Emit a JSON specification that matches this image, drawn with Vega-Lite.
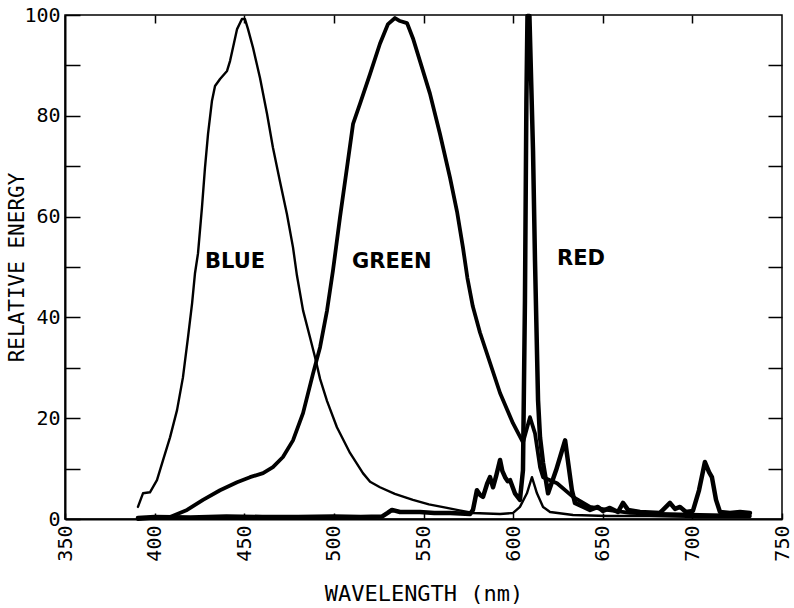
{
  "$schema": "https://vega.github.io/schema/vega-lite/v6.json",
  "width": 717,
  "height": 504,
  "autosize": {"type": "none"},
  "padding": {"left": 65, "top": 15, "right": 12, "bottom": 89},
  "background": "white",
  "config": {
    "view": {"stroke": "black", "strokeWidth": 1.5},
    "font": "DejaVu Sans Mono",
    "axis": {
      "grid": false,
      "domainColor": "black",
      "tickColor": "black",
      "labelColor": "black",
      "titleColor": "black",
      "labelFont": "DejaVu Sans Mono",
      "titleFont": "DejaVu Sans Mono",
      "labelFlush": false,
      "labelOverlap": false,
      "labelBound": false,
      "titleFontWeight": "normal"
    }
  },
  "datasets": {
    "spectra": [
      {"series": "Blue", "wl": 390.7, "e": 2.4}, {"series": "Blue", "wl": 393.5, "e": 5.1}, {"series": "Blue", "wl": 397.4, "e": 5.3},
      {"series": "Blue", "wl": 401.3, "e": 7.7}, {"series": "Blue", "wl": 404.7, "e": 11.7}, {"series": "Blue", "wl": 408.6, "e": 16.2},
      {"series": "Blue", "wl": 412.5, "e": 21.6}, {"series": "Blue", "wl": 415.8, "e": 28.1}, {"series": "Blue", "wl": 418.6, "e": 36.0},
      {"series": "Blue", "wl": 420.9, "e": 42.8}, {"series": "Blue", "wl": 422.5, "e": 48.7}, {"series": "Blue", "wl": 424.2, "e": 52.7},
      {"series": "Blue", "wl": 426.4, "e": 61.8}, {"series": "Blue", "wl": 428.1, "e": 69.7}, {"series": "Blue", "wl": 429.8, "e": 76.4},
      {"series": "Blue", "wl": 432.0, "e": 83.0}, {"series": "Blue", "wl": 433.7, "e": 85.9}, {"series": "Blue", "wl": 436.5, "e": 87.3},
      {"series": "Blue", "wl": 440.4, "e": 88.9}, {"series": "Blue", "wl": 442.1, "e": 90.9}, {"series": "Blue", "wl": 443.7, "e": 93.5},
      {"series": "Blue", "wl": 446.0, "e": 97.2}, {"series": "Blue", "wl": 448.7, "e": 99.2}, {"series": "Blue", "wl": 450.4, "e": 99.2},
      {"series": "Blue", "wl": 452.1, "e": 97.2}, {"series": "Blue", "wl": 454.9, "e": 93.5}, {"series": "Blue", "wl": 458.8, "e": 87.5},
      {"series": "Blue", "wl": 462.7, "e": 80.4}, {"series": "Blue", "wl": 466.0, "e": 73.7}, {"series": "Blue", "wl": 469.9, "e": 67.0},
      {"series": "Blue", "wl": 473.8, "e": 60.5}, {"series": "Blue", "wl": 477.2, "e": 53.9}, {"series": "Blue", "wl": 479.4, "e": 48.3},
      {"series": "Blue", "wl": 482.8, "e": 41.4}, {"series": "Blue", "wl": 486.7, "e": 36.0}, {"series": "Blue", "wl": 489.5, "e": 32.1},
      {"series": "Blue", "wl": 492.3, "e": 27.8}, {"series": "Blue", "wl": 496.2, "e": 23.4}, {"series": "Blue", "wl": 501.7, "e": 18.2},
      {"series": "Blue", "wl": 509.0, "e": 13.1}, {"series": "Blue", "wl": 516.2, "e": 9.1}, {"series": "Blue", "wl": 520.2, "e": 7.4},
      {"series": "Blue", "wl": 525.7, "e": 6.3}, {"series": "Blue", "wl": 534.0, "e": 5.0}, {"series": "Blue", "wl": 544.1, "e": 3.8},
      {"series": "Blue", "wl": 553.0, "e": 2.9}, {"series": "Blue", "wl": 563.1, "e": 2.2}, {"series": "Blue", "wl": 570.0, "e": 1.7},
      {"series": "Blue", "wl": 577.6, "e": 1.2}, {"series": "Blue", "wl": 585.0, "e": 1.1}, {"series": "Blue", "wl": 592.7, "e": 1.0},
      {"series": "Blue", "wl": 600.0, "e": 1.2}, {"series": "Blue", "wl": 603.8, "e": 2.4}, {"series": "Blue", "wl": 607.7, "e": 5.1},
      {"series": "Blue", "wl": 610.5, "e": 8.3}, {"series": "Blue", "wl": 613.3, "e": 5.1}, {"series": "Blue", "wl": 616.7, "e": 2.4},
      {"series": "Blue", "wl": 620.6, "e": 1.4}, {"series": "Blue", "wl": 633.4, "e": 0.8}, {"series": "Blue", "wl": 652.4, "e": 0.6},
      {"series": "Blue", "wl": 676.0, "e": 0.6}, {"series": "Blue", "wl": 704.0, "e": 0.4}, {"series": "Blue", "wl": 732.0, "e": 0.4},

      {"series": "Green", "wl": 390.7, "e": 0.0}, {"series": "Green", "wl": 397.4, "e": 0.2}, {"series": "Green", "wl": 408.6, "e": 0.4},
      {"series": "Green", "wl": 418.1, "e": 1.8}, {"series": "Green", "wl": 427.0, "e": 3.8}, {"series": "Green", "wl": 436.5, "e": 5.7},
      {"series": "Green", "wl": 446.0, "e": 7.3}, {"series": "Green", "wl": 453.2, "e": 8.3}, {"series": "Green", "wl": 460.5, "e": 9.1},
      {"series": "Green", "wl": 466.0, "e": 10.3}, {"series": "Green", "wl": 471.6, "e": 12.3}, {"series": "Green", "wl": 477.2, "e": 15.6},
      {"series": "Green", "wl": 482.8, "e": 21.0}, {"series": "Green", "wl": 488.4, "e": 28.9}, {"series": "Green", "wl": 492.3, "e": 34.1},
      {"series": "Green", "wl": 496.2, "e": 41.4}, {"series": "Green", "wl": 499.5, "e": 49.3}, {"series": "Green", "wl": 503.4, "e": 59.8},
      {"series": "Green", "wl": 507.3, "e": 69.7}, {"series": "Green", "wl": 510.7, "e": 78.4}, {"series": "Green", "wl": 514.6, "e": 82.4},
      {"series": "Green", "wl": 520.2, "e": 88.3}, {"series": "Green", "wl": 525.7, "e": 94.3}, {"series": "Green", "wl": 530.2, "e": 98.2},
      {"series": "Green", "wl": 534.1, "e": 99.4}, {"series": "Green", "wl": 536.9, "e": 98.8}, {"series": "Green", "wl": 540.8, "e": 98.4},
      {"series": "Green", "wl": 544.1, "e": 95.4}, {"series": "Green", "wl": 548.0, "e": 90.9}, {"series": "Green", "wl": 553.6, "e": 84.4},
      {"series": "Green", "wl": 559.2, "e": 76.4}, {"series": "Green", "wl": 564.8, "e": 67.7}, {"series": "Green", "wl": 568.7, "e": 61.0},
      {"series": "Green", "wl": 572.0, "e": 53.9}, {"series": "Green", "wl": 574.5, "e": 47.8}, {"series": "Green", "wl": 577.5, "e": 42.2},
      {"series": "Green", "wl": 581.5, "e": 37.0}, {"series": "Green", "wl": 587.1, "e": 31.0}, {"series": "Green", "wl": 592.7, "e": 25.0},
      {"series": "Green", "wl": 599.9, "e": 19.0},
      {"series": "Green", "wl": 605.5, "e": 15.2}, {"series": "Green", "wl": 609.4, "e": 20.2}, {"series": "Green", "wl": 612.2, "e": 17.0},
      {"series": "Green", "wl": 615.0, "e": 10.3}, {"series": "Green", "wl": 616.7, "e": 8.3}, {"series": "Green", "wl": 624.5, "e": 7.1},
      {"series": "Green", "wl": 633.4, "e": 4.4}, {"series": "Green", "wl": 642.9, "e": 2.4}, {"series": "Green", "wl": 652.4, "e": 1.8},
      {"series": "Green", "wl": 665.2, "e": 1.2}, {"series": "Green", "wl": 681.9, "e": 1.0}, {"series": "Green", "wl": 704.2, "e": 0.8},
      {"series": "Green", "wl": 732.1, "e": 0.6},

      {"series": "Red", "wl": 390.7, "e": 0.2}, {"series": "Red", "wl": 400.0, "e": 0.4}, {"series": "Red", "wl": 420.0, "e": 0.3},
      {"series": "Red", "wl": 440.0, "e": 0.5}, {"series": "Red", "wl": 460.0, "e": 0.4}, {"series": "Red", "wl": 480.0, "e": 0.4},
      {"series": "Red", "wl": 500.0, "e": 0.5}, {"series": "Red", "wl": 515.0, "e": 0.4}, {"series": "Red", "wl": 527.0, "e": 0.5},
      {"series": "Red", "wl": 530.0, "e": 1.2}, {"series": "Red", "wl": 532.4, "e": 1.8}, {"series": "Red", "wl": 536.9, "e": 1.4},
      {"series": "Red", "wl": 548.0, "e": 1.4}, {"series": "Red", "wl": 556.0, "e": 1.2}, {"series": "Red", "wl": 565.0, "e": 1.2},
      {"series": "Red", "wl": 576.0, "e": 1.0}, {"series": "Red", "wl": 577.6, "e": 1.8}, {"series": "Red", "wl": 579.8, "e": 5.7},
      {"series": "Red", "wl": 581.5, "e": 4.8}, {"series": "Red", "wl": 583.2, "e": 4.4}, {"series": "Red", "wl": 585.5, "e": 7.0},
      {"series": "Red", "wl": 587.1, "e": 8.3}, {"series": "Red", "wl": 588.8, "e": 6.3}, {"series": "Red", "wl": 590.5, "e": 8.5},
      {"series": "Red", "wl": 592.7, "e": 11.7}, {"series": "Red", "wl": 594.0, "e": 9.5}, {"series": "Red", "wl": 595.5, "e": 8.3},
      {"series": "Red", "wl": 597.0, "e": 7.5}, {"series": "Red", "wl": 598.3, "e": 7.7}, {"series": "Red", "wl": 601.0, "e": 5.1},
      {"series": "Red", "wl": 603.8, "e": 3.8}, {"series": "Red", "wl": 605.5, "e": 9.7}, {"series": "Red", "wl": 606.6, "e": 43.4},
      {"series": "Red", "wl": 607.4, "e": 83.0}, {"series": "Red", "wl": 608.0, "e": 99.8}, {"series": "Red", "wl": 609.1, "e": 99.8},
      {"series": "Red", "wl": 611.1, "e": 73.1}, {"series": "Red", "wl": 612.2, "e": 51.3}, {"series": "Red", "wl": 613.9, "e": 23.6},
      {"series": "Red", "wl": 615.0, "e": 16.2}, {"series": "Red", "wl": 616.7, "e": 11.1}, {"series": "Red", "wl": 619.5, "e": 5.1},
      {"series": "Red", "wl": 624.0, "e": 9.7}, {"series": "Red", "wl": 629.0, "e": 15.6}, {"series": "Red", "wl": 632.8, "e": 5.7},
      {"series": "Red", "wl": 634.5, "e": 3.2}, {"series": "Red", "wl": 642.9, "e": 1.8}, {"series": "Red", "wl": 647.3, "e": 2.4},
      {"series": "Red", "wl": 650.1, "e": 1.6}, {"series": "Red", "wl": 654.0, "e": 2.2}, {"series": "Red", "wl": 658.5, "e": 1.4},
      {"series": "Red", "wl": 661.3, "e": 3.2}, {"series": "Red", "wl": 664.1, "e": 1.8}, {"series": "Red", "wl": 670.8, "e": 1.4},
      {"series": "Red", "wl": 681.9, "e": 1.2}, {"series": "Red", "wl": 687.5, "e": 3.2}, {"series": "Red", "wl": 690.3, "e": 2.0},
      {"series": "Red", "wl": 693.1, "e": 2.4}, {"series": "Red", "wl": 696.4, "e": 1.4}, {"series": "Red", "wl": 700.3, "e": 1.6},
      {"series": "Red", "wl": 703.7, "e": 5.7}, {"series": "Red", "wl": 707.0, "e": 11.3}, {"series": "Red", "wl": 709.3, "e": 9.3},
      {"series": "Red", "wl": 710.9, "e": 8.3}, {"series": "Red", "wl": 713.2, "e": 3.8}, {"series": "Red", "wl": 715.4, "e": 1.4},
      {"series": "Red", "wl": 721.0, "e": 1.2}, {"series": "Red", "wl": 726.6, "e": 1.4}, {"series": "Red", "wl": 732.1, "e": 1.2}
    ],
    "labels": [
      {"label": "BLUE", "wl": 428.1, "e": 50.9},
      {"label": "GREEN", "wl": 510.1, "e": 50.9},
      {"label": "RED", "wl": 624.5, "e": 51.5}
    ]
  },
  "layer": [
    {
      "data": {"name": "spectra"},
      "mark": {"type": "line", "color": "black", "strokeJoin": "round", "strokeCap": "round"},
      "encoding": {
        "x": {
          "field": "wl", "type": "quantitative",
          "scale": {"domain": [350, 750], "nice": false, "zero": false},
          "axis": {
            "orient": "bottom",
            "values": [350, 400, 450, 500, 550, 600, 650, 700, 750],
            "labelAngle": 270,
            "labelFontSize": 20,
            "tickSize": -6,
            "tickWidth": 1.5,
            "labelPadding": 12,
            "domainWidth": 2,
            "title": "WAVELENGTH (nm)",
            "titleFontSize": 22,
            "titlePadding": 22
          }
        },
        "y": {
          "field": "e", "type": "quantitative",
          "scale": {"domain": [0, 100], "nice": false},
          "axis": {
            "orient": "left",
            "values": [0, 10, 20, 30, 40, 50, 60, 70, 80, 90, 100],
            "labelExpr": "datum.value % 20 == 0 ? datum.label : ''",
            "labelFontSize": 20,
            "tickSize": -15,
            "tickWidth": 1.5,
            "labelPadding": 20,
            "domainWidth": 2,
            "title": "RELATIVE ENERGY",
            "titleFontSize": 21,
            "titlePadding": -4
          }
        },
        "detail": {"field": "series", "type": "nominal"},
        "strokeWidth": {
          "field": "series", "type": "nominal",
          "scale": {"type": "ordinal", "domain": ["Blue", "Green", "Red"], "range": [2.4, 3.8, 4.5]},
          "legend": null
        }
      }
    },
    {
      "data": {"name": "labels"},
      "mark": {"type": "text", "font": "DejaVu Sans", "fontWeight": "bold", "fontSize": 21, "align": "left", "baseline": "middle", "color": "black"},
      "encoding": {
        "x": {
          "field": "wl", "type": "quantitative",
          "scale": {"domain": [350, 750], "nice": false, "zero": false},
          "axis": {"orient": "top", "values": [400, 450, 500, 550, 600, 650, 700], "labels": false, "tickSize": -8, "tickWidth": 1.5, "domain": false, "title": null}
        },
        "y": {
          "field": "e", "type": "quantitative",
          "scale": {"domain": [0, 100], "nice": false},
          "axis": {"orient": "right", "values": [10, 20, 30, 40, 50, 60, 70, 80, 90], "labels": false, "tickSize": -14, "tickWidth": 1.5, "domain": false, "title": null}
        },
        "text": {"field": "label", "type": "nominal"}
      }
    }
  ],
  "resolve": {"axis": {"x": "independent", "y": "independent"}}
}
